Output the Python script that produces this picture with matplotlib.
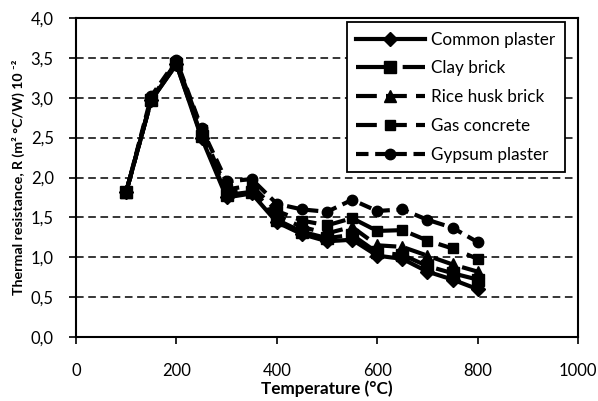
import matplotlib
matplotlib.use("Agg")
import matplotlib.pyplot as plt
from matplotlib.ticker import FuncFormatter, MultipleLocator

plt.rcParams["font.family"] = ["Lato", "DejaVu Sans"]

temps = [100, 150, 200, 250, 300, 350, 400, 450, 500, 550, 600, 650, 700, 750, 800]
common_plaster = [1.82, 2.97, 3.42, 2.50, 1.75, 1.80, 1.44, 1.29, 1.20, 1.22, 1.02, 0.98, 0.82, 0.72, 0.60]
clay_brick = [1.82, 2.97, 3.42, 2.52, 1.78, 1.82, 1.47, 1.32, 1.24, 1.28, 1.06, 1.03, 0.89, 0.80, 0.72]
rice_husk = [1.82, 2.98, 3.44, 2.56, 1.81, 1.85, 1.52, 1.38, 1.30, 1.38, 1.15, 1.13, 1.02, 0.91, 0.82]
gas_concrete = [1.82, 2.98, 3.45, 2.60, 1.85, 1.90, 1.58, 1.46, 1.40, 1.49, 1.33, 1.34, 1.21, 1.11, 0.98]
gypsum = [1.82, 3.02, 3.47, 2.62, 1.95, 1.98, 1.67, 1.60, 1.57, 1.72, 1.58, 1.60, 1.47, 1.37, 1.19]

# nom, valeurs, marqueur, taille, style de trait
series = [
    ("Common plaster", common_plaster, "D", 7, "-"),
    ("Clay brick", clay_brick, "s", 8, (0, (9, 2.2))),
    ("Rice husk brick", rice_husk, "^", 8, (0, (5, 2.2))),
    ("Gas concrete", gas_concrete, "s", 7, (0, (5, 2.2))),
    ("Gypsum plaster", gypsum, "o", 7.5, (0, (3, 1.6))),
]

fig = plt.figure(figsize=(5.98, 4.01), dpi=100)
ax = fig.add_axes([76 / 598, 1 - 337 / 401, 502 / 598, 319 / 401])

for name, vals, mk, ms, ls in series:
    ax.plot(temps, vals, ls=ls, color="black", lw=3.0, marker=mk, ms=ms,
            mfc="black", mec="black", label=name)

ax.set_xlim(0, 1000)
ax.set_ylim(0, 4.0)
ax.xaxis.set_major_locator(MultipleLocator(200))
ax.yaxis.set_major_locator(MultipleLocator(0.5))
ax.yaxis.set_major_formatter(FuncFormatter(lambda v, p: f"{v:.1f}".replace(".", ",")))
ax.yaxis.grid(True, color="black", ls=(0, (5, 3)), lw=1.1)
ax.set_axisbelow(True)
ax.tick_params(direction="out", length=5, width=1.2, labelsize=12, colors="black")
ax.tick_params(axis="x", pad=14)
ax.tick_params(axis="y", pad=11)
for s in ax.spines.values():
    s.set_linewidth(1.5)

ax.set_xlabel("Temperature (°C)", fontsize=12.3, weight="bold", labelpad=1)
ax.set_ylabel("Thermal resistance, R (m² °C/W) 10 ⁻²", fontsize=10.2, weight="bold", labelpad=4)

leg = ax.legend(loc="upper right", bbox_to_anchor=(0.974, 0.987), borderaxespad=0,
                fontsize=12.3, handlelength=4.0, fancybox=False, edgecolor="black",
                framealpha=1, borderpad=0.55, labelspacing=0.75, handletextpad=0.4)
leg.get_frame().set_linewidth(1.3)

fig.savefig("out.png", dpi=100)
